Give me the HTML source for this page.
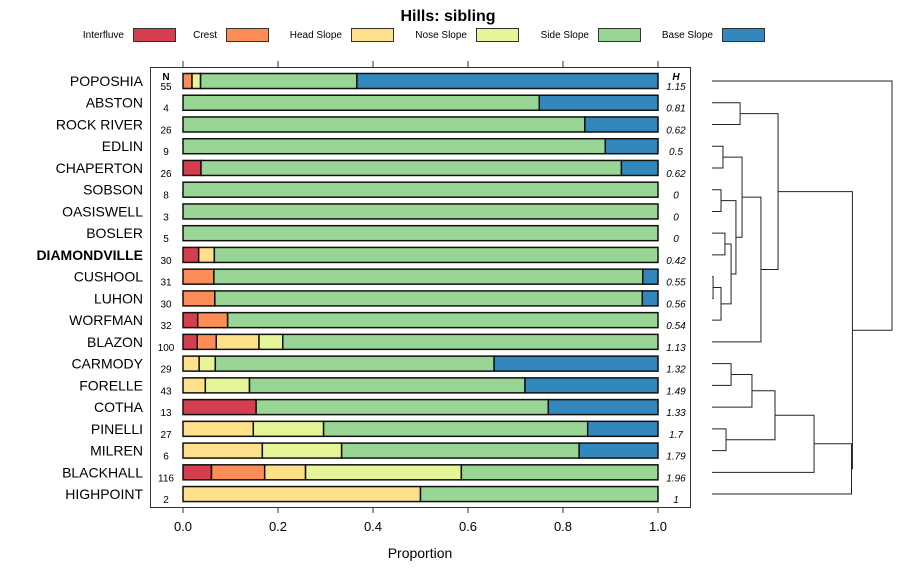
<!DOCTYPE html>
<html><head><meta charset="utf-8"><style>
html,body{margin:0;padding:0;background:#fff;}
svg{display:block;font-family:"Liberation Sans",sans-serif;}
</style></head><body>
<svg id="chart" width="900" height="580" viewBox="0 0 900 580" xmlns="http://www.w3.org/2000/svg">
<text x="448" y="21" text-anchor="middle" font-size="16" font-weight="bold">Hills: sibling</text>
<g id="legend"></g>
<rect x="150.5" y="67.5" width="540" height="440" fill="none" stroke="#333" stroke-width="1"/>
<g id="bars"></g>
<g id="axes"></g>
<g id="dendro"></g>
<text x="420" y="558" text-anchor="middle" font-size="14">Proportion</text>
<text x="166" y="80" text-anchor="middle" font-size="10" font-weight="bold">N</text>
<text x="676" y="80" text-anchor="middle" font-size="10" font-weight="bold" font-style="italic">H</text>
</svg>
<script>
const categories = ["Interfluve","Crest","Head Slope","Nose Slope","Side Slope","Base Slope"];
const colors = ["#D53E4F","#FC8D59","#FEE08B","#E6F598","#99D594","#3288BD"];
const sites = ["POPOSHIA","ABSTON","ROCK RIVER","EDLIN","CHAPERTON","SOBSON","OASISWELL","BOSLER","DIAMONDVILLE","CUSHOOL","LUHON","WORFMAN","BLAZON","CARMODY","FORELLE","COTHA","PINELLI","MILREN","BLACKHALL","HIGHPOINT"];
const nValues = [55,4,26,9,26,8,3,5,30,31,30,32,100,29,43,13,27,6,116,2];
const hValues = ["1.15","0.81","0.62","0.5","0.62","0","0","0","0.42","0.55","0.56","0.54","1.13","1.32","1.49","1.33","1.7","1.79","1.96","1"];
const interfluve = [0,0,0,0,0.038,0,0,0,0.033,0,0,0.031,0.03,0,0,0.154,0,0,0.06,0];
const crest      = [0.019,0,0,0,0,0,0,0,0,0.065,0.067,0.063,0.04,0,0,0,0,0,0.112,0];
const headSlope  = [0,0,0,0,0,0,0,0,0.033,0,0,0,0.09,0.034,0.047,0,0.148,0.167,0.086,0.5];
const noseSlope  = [0.018,0,0,0,0,0,0,0,0,0,0,0,0.05,0.034,0.093,0,0.148,0.167,0.328,0];
const sideSlope  = [0.329,0.75,0.846,0.889,0.885,1,1,1,0.934,0.903,0.9,0.906,0.79,0.587,0.58,0.615,0.556,0.5,0.414,0.5];
const baseSlope  = [0.634,0.25,0.154,0.111,0.077,0,0,0,0,0.032,0.033,0,0,0.345,0.28,0.231,0.148,0.166,0,0];
const xTicks = [0,0.2,0.4,0.6,0.8,1.0];
const xTickLabels = ["0.0","0.2","0.4","0.6","0.8","1.0"];
// dendrogram merges: [left, right, height]; negative = leaf index, positive = merge number (1-based)
const merges = [
 [-10,-11,0.006],[-6,-7,0.05],[-12,1,0.05],[-4,-5,0.061],[-8,-9,0.072],[-17,-18,0.078],
 [5,3,0.106],[-14,-15,0.106],[2,7,0.133],[-2,-3,0.156],[4,9,0.167],[8,-16,0.222],
 [11,-13,0.272],[12,6,0.35],[10,13,0.367],[14,-19,0.567],[16,-20,0.775],[15,17,0.78],[-1,18,1.0]
];
const NS="http://www.w3.org/2000/svg";
function mk(tag,attrs,parent){const e=document.createElementNS(NS,tag);for(const k in attrs)e.setAttribute(k,attrs[k]);parent.appendChild(e);return e;}
const xs = v => 183 + v*475;
const ys = i => 81 + i*21.74;
const series=[interfluve,crest,headSlope,noseSlope,sideSlope,baseSlope];
// legend
const lg=document.getElementById('legend');
const legX=[[124,175],[217,252],[342,395],[467,520],[589,598+0],[713,726]];
const legPos=[[124,175],[218,227],[342,351],[467,477],[589,598],[713,726]];
categories.forEach((c,i)=>{
 const g=mk('g',{},lg);
 
 
 const tx=[124,217,342,467,589,713][i];
 const t=mk('text',{x:tx,y:38,'text-anchor':'end','font-size':10},g);t.textContent=c;
 mk('rect',{x:tx+9.5,y:28.5,width:42,height:13,fill:colors[i],stroke:'#333'},g);
});
// bars
const bg=document.getElementById('bars');
sites.forEach((s,i)=>{
 const y=ys(i);
 const lab=mk('text',{x:143,y:y+5,'text-anchor':'end','font-size':14,'font-weight':s==='DIAMONDVILLE'?'bold':'normal'},bg);
 
 
 lab.textContent=s;
 const nt=mk('text',{x:166,y:y+9,'text-anchor':'middle','font-size':10},bg);
 
 
 nt.textContent=nValues[i];
 const ht=mk('text',{x:676,y:y+9,'text-anchor':'middle','font-size':10,'font-style':'italic'},bg);
 
 
 ht.textContent=hValues[i];
 let cum=0;
 series.forEach((arr,k)=>{
  const v=arr[i]; if(v<=0)return;
  const r=mk('rect',{x:xs(cum),y:y-7.5,width:xs(cum+v)-xs(cum),height:15,fill:colors[k],stroke:'#111','stroke-width':1.5},bg);
  
  
  cum+=v;
 });
});
// axes
const ax=document.getElementById('axes');
xTicks.forEach((t,i)=>{
 const x=xs(t);
 mk('line',{x1:x,x2:x,y1:507,y2:513,stroke:'#333'},ax);
 mk('line',{x1:x,x2:x,y1:61,y2:67,stroke:'#333'},ax);
 const tl=mk('text',{x:x,y:531,'text-anchor':'middle','font-size':13},ax);
 
 
 tl.textContent=xTickLabels[i];
});
// dendrogram
const dg=document.getElementById('dendro');
const dx=h=>712+h*180;
const pos=[];
function nodeInfo(id){ if(id<0) return {y:ys(-id-1),h:0}; return pos[id-1]; }
merges.forEach((m,j)=>{
 const a=nodeInfo(m[0]),b=nodeInfo(m[1]);const x=dx(m[2]);
 const st={stroke:'#222',fill:'none','stroke-width':1};
 const p=mk('path',Object.assign({d:`M${dx(a.h)},${a.y}H${x}V${b.y}H${dx(b.h)}`},st),dg);
 
 
 pos[j]={y:(a.y+b.y)/2,h:m[2]};
});
</script>
</body></html>
